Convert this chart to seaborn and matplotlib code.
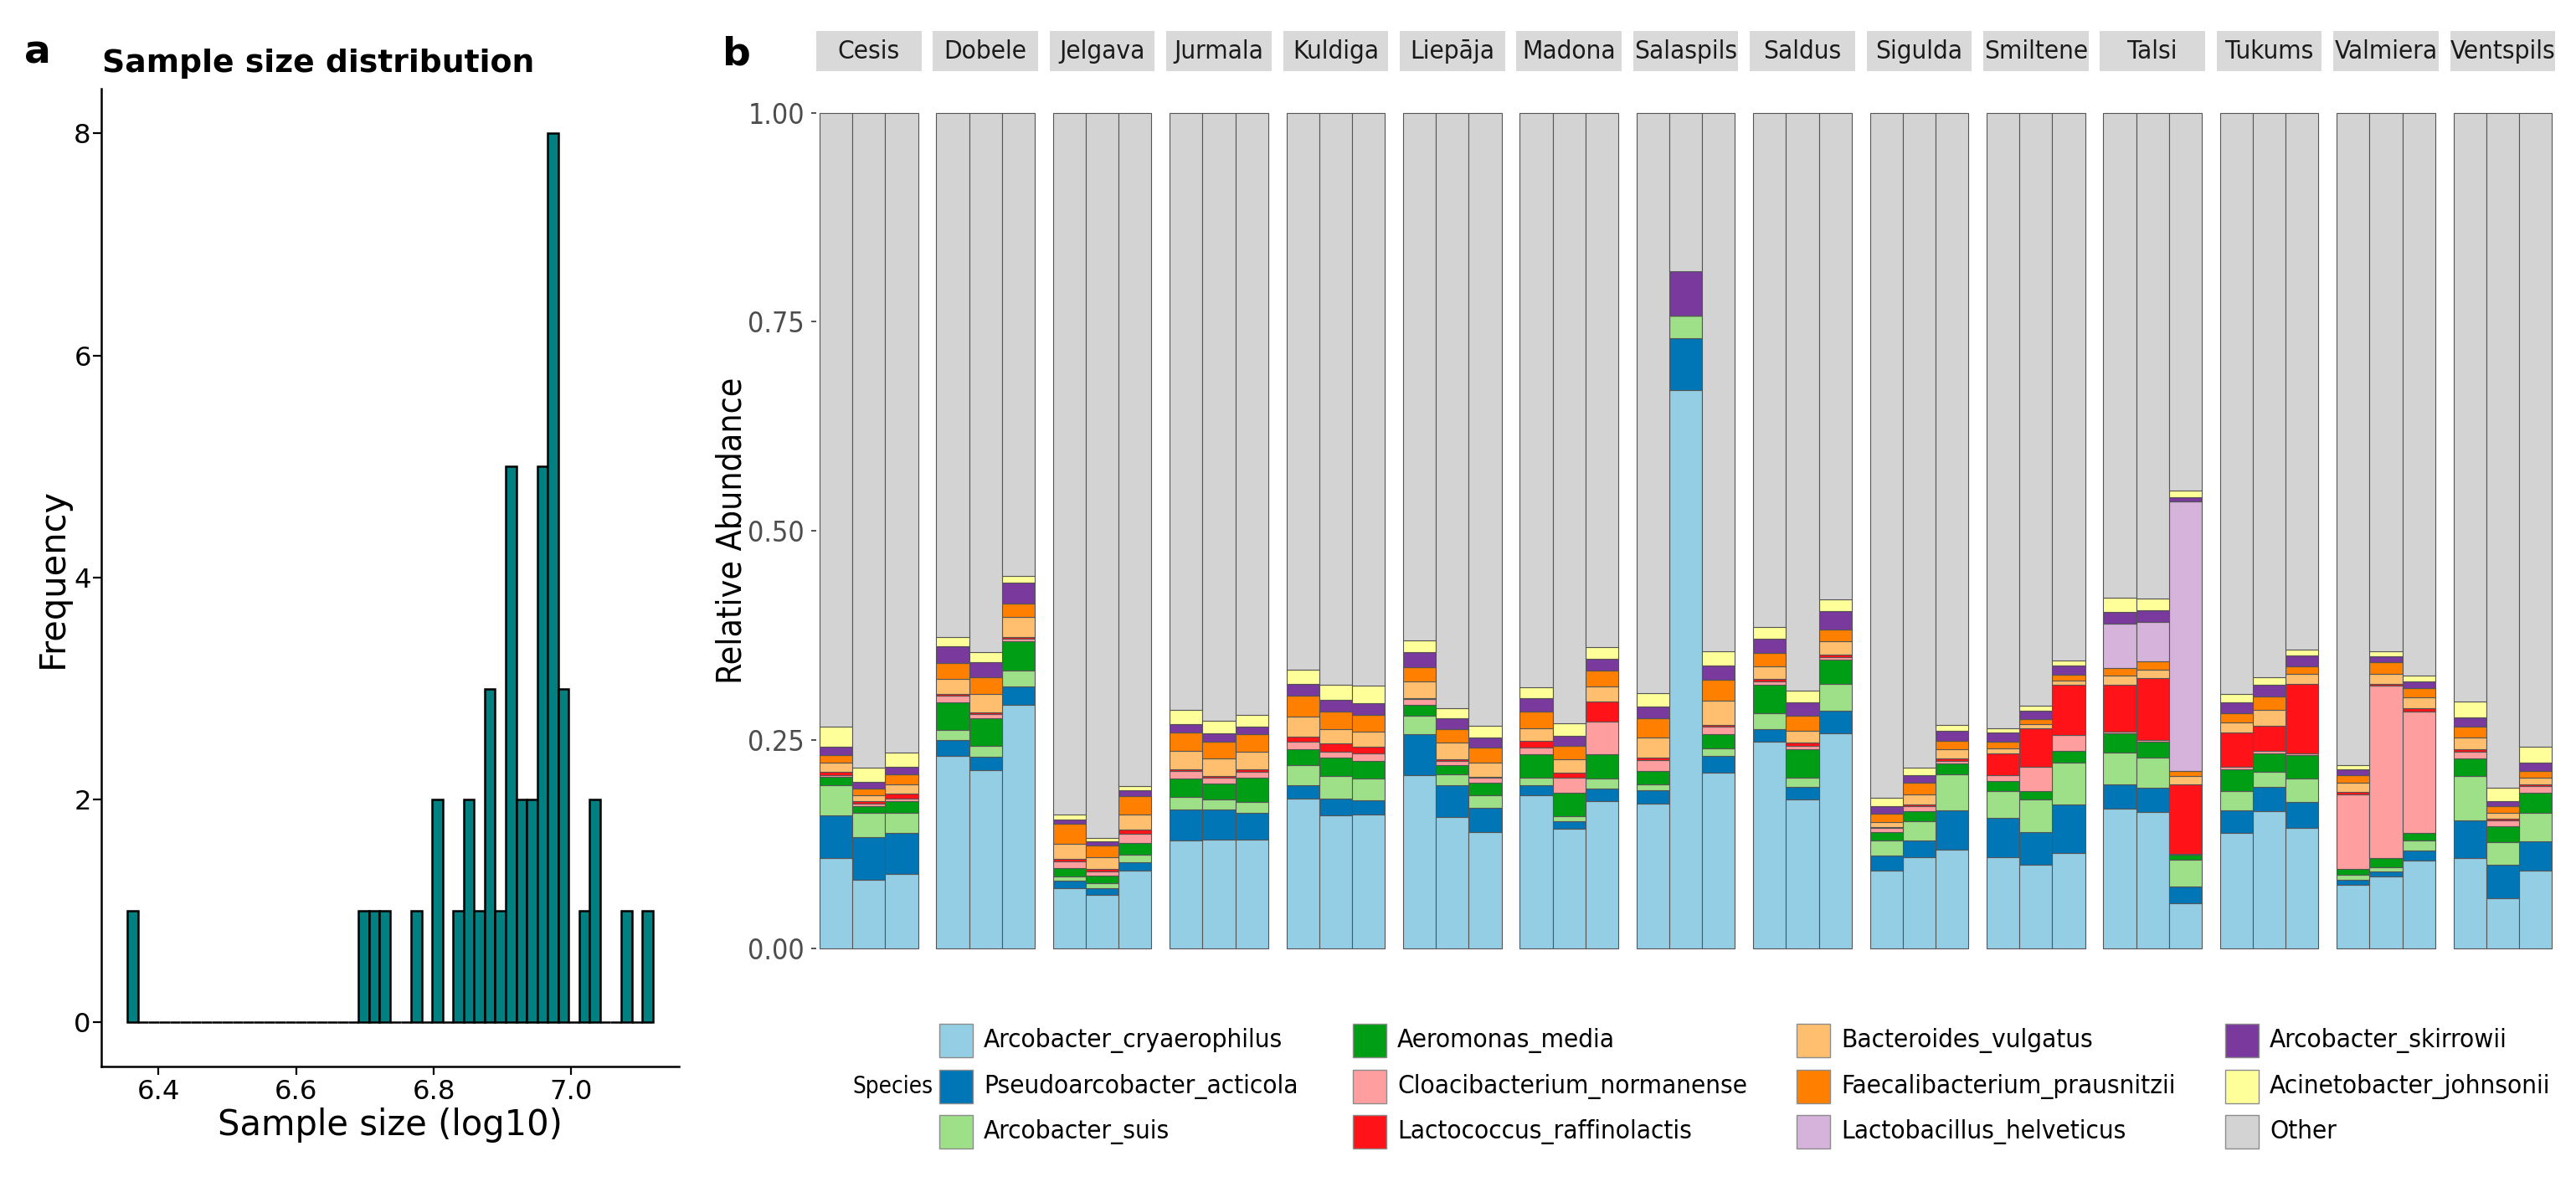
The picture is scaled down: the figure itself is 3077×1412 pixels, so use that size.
import numpy as np
import pandas as pd
import seaborn as sns
import matplotlib.pyplot as plt
from matplotlib import font_manager as fm
from matplotlib.patches import Rectangle

# ---- panel a: sample size histogram (bin value, count) ----
hist_values = [6.3624, 6.6985, 6.7137, 6.7290, 6.7748, 6.8054, 6.8359, 6.8512,
               6.8665, 6.8818, 6.8970, 6.9123, 6.9276, 6.9428, 6.9581, 6.9734,
               6.9887, 7.0192, 7.0345, 7.0803, 7.1108]
hist_counts = [1, 1, 1, 1, 1, 2, 1, 2, 1, 3, 1, 5, 2, 2, 5, 8, 3, 1, 2, 1, 1]

# ---- panel b: relative abundance, 3 samples per region ----
regions = ["Cesis", "Dobele", "Jelgava", "Jurmala", "Kuldiga", "Liepāja", "Madona",
           "Salaspils", "Saldus", "Sigulda", "Smiltene", "Talsi", "Tukums",
           "Valmiera", "Ventspils"]

species = ["Arcobacter_cryaerophilus", "Pseudoarcobacter_acticola", "Arcobacter_suis",
           "Aeromonas_media", "Cloacibacterium_normanense", "Lactococcus_raffinolactis",
           "Bacteroides_vulgatus", "Faecalibacterium_prausnitzii", "Lactobacillus_helveticus",
           "Arcobacter_skirrowii", "Acinetobacter_johnsonii", "Other"]

colors = ["#94CEE4", "#0076B6", "#9EE088", "#009E14", "#FF9E9E", "#FF1218",
          "#FFBF6E", "#FF8000", "#D5B3DA", "#7A399C", "#FFFF99", "#D3D3D3"]

cryaerophilus = [.108, .082, .089, .231, .213, .292, .072, .064, .093, .129, .130, .130,
                 .179, .159, .160, .207, .157, .139, .183, .143, .176, .173, .668, .210,
                 .248, .178, .258, .093, .109, .118, .109, .100, .114, .167, .163, .054,
                 .138, .164, .144, .076, .086, .105, .108, .060, .093]
acticola = [.051, .051, .049, .019, .017, .022, .009, .008, .010, .037, .036, .032,
            .016, .020, .017, .050, .038, .029, .012, .009, .015, .016, .062, .021,
            .015, .015, .027, .018, .020, .047, .047, .039, .058, .029, .029, .020,
            .027, .029, .031, .006, .006, .012, .045, .040, .035]
suis = [.036, .029, .024, .012, .013, .019, .005, .006, .009, .015, .012, .013,
        .024, .027, .026, .022, .013, .015, .009, .006, .012, .007, .027, .009,
        .019, .011, .032, .018, .023, .043, .032, .039, .050, .039, .037, .032,
        .023, .018, .028, .006, .005, .012, .053, .027, .034]
media = [.010, .008, .014, .033, .033, .035, .010, .009, .014, .022, .019, .029,
         .020, .023, .022, .013, .011, .015, .029, .028, .030, .016, .000, .017,
         .034, .035, .029, .010, .012, .013, .012, .010, .015, .023, .019, .006,
         .026, .023, .029, .007, .011, .009, .022, .019, .024]
normanense = [.002, .003, .003, .008, .005, .003, .008, .005, .011, .009, .007, .007,
              .009, .007, .009, .007, .006, .006, .008, .018, .039, .014, .000, .009,
              .004, .004, .003, .005, .006, .003, .007, .029, .019, .002, .002, .001,
              .003, .003, .002, .089, .207, .146, .008, .007, .008]
raffinolactis = [.004, .003, .006, .002, .002, .002, .003, .003, .005, .002, .002, .003,
                 .006, .010, .008, .001, .002, .001, .008, .006, .024, .003, .000, .002,
                 .003, .004, .003, .001, .002, .004, .027, .047, .060, .056, .074, .083,
                 .042, .030, .083, .003, .002, .004, .003, .002, .002]
vulgatus = [.011, .007, .011, .018, .022, .024, .018, .014, .018, .023, .022, .022,
            .024, .017, .018, .020, .020, .017, .015, .017, .018, .024, .000, .029,
            .015, .014, .016, .006, .012, .011, .006, .005, .005, .011, .010, .010,
            .012, .019, .012, .011, .012, .013, .014, .007, .008]
prausnitzii = [.010, .008, .012, .019, .020, .016, .024, .014, .022, .022, .020, .021,
               .025, .021, .020, .017, .016, .019, .020, .016, .019, .023, .000, .025,
               .016, .018, .014, .010, .014, .010, .008, .006, .007, .009, .010, .006,
               .011, .016, .009, .009, .014, .011, .013, .008, .008]
helveticus = [0, 0, 0, 0, 0, 0, 0, 0, 0, 0, 0, 0,
              0, 0, 0, 0, 0, 0, 0, 0, 0, 0, 0, 0,
              0, 0, 0, 0, 0, 0, 0, 0, 0, .053, .047, .323,
              0, 0, 0, 0, 0, 0, 0, 0, 0]
skirrowii = [.010, .008, .009, .020, .018, .025, .005, .005, .007, .010, .010, .009,
             .014, .014, .014, .018, .013, .012, .016, .012, .014, .014, .054, .017,
             .017, .016, .022, .009, .009, .012, .011, .010, .011, .014, .014, .005,
             .013, .014, .013, .007, .007, .008, .011, .006, .010]
johnsonii = [.024, .017, .018, .011, .012, .008, .006, .004, .005, .017, .015, .014,
             .017, .018, .021, .014, .012, .014, .013, .015, .014, .016, .000, .017,
             .014, .014, .014, .010, .009, .007, .005, .006, .006, .017, .014, .008,
             .010, .009, .007, .005, .006, .007, .019, .016, .020]
other = [.734, .784, .765, .627, .645, .554, .840, .868, .806, .714, .727, .720,
         .666, .684, .685, .631, .712, .733, .687, .730, .639, .694, .189, .644,
         .615, .691, .582, .820, .784, .732, .736, .709, .655, .580, .581, .452,
         .695, .675, .642, .781, .644, .673, .704, .808, .758]

series = [cryaerophilus, acticola, suis, media, normanense, raffinolactis, vulgatus,
          prausnitzii, helveticus, skirrowii, johnsonii, other]

rows = []
for sp, vals in zip(species, series):
    for k, v in enumerate(vals):
        rows.append({"region": regions[k // 3], "sample": k % 3, "species": sp, "abundance": v})
df = pd.DataFrame(rows)

sns.set_theme(style="ticks")
# panel b text is a condensed DejaVu; register it when it is installed
for f in fm.findSystemFonts():
    if "DejaVuSansCondensed" in f:
        fm.fontManager.addfont(f)
plt.rcParams["font.family"] = ["DejaVu Sans"]
plt.rcParams["font.stretch"] = "condensed"
plt.rcParams["text.color"] = "black"

W, H = 3077, 1412
fig = plt.figure(figsize=(W / 200, H / 200), dpi=200)


def box(x0, y0, x1, y1):
    return [x0 / W, 1 - y1 / H, (x1 - x0) / W, (y1 - y0) / H]


# ---- panel a (normal width text) ----
ax_a = fig.add_axes(box(121, 106, 811, 1274))
sns.histplot(x=hist_values, weights=hist_counts, bins=50, binrange=(6.3548, 7.1185),
             color="#008080", edgecolor="black", linewidth=0.9, alpha=1, ax=ax_a)
ax_a.set_xlim(6.3166, 7.1567)
ax_a.set_ylim(-0.4, 8.4)
ax_a.set_xticks([6.4, 6.6, 6.8, 7.0])
ax_a.set_xticklabels(["6.4", "6.6", "6.8", "7.0"])
ax_a.set_yticks([0, 2, 4, 6, 8])
ax_a.set_xlabel("")
ax_a.set_ylabel("")
sns.despine(ax=ax_a)
for s in ["left", "bottom"]:
    ax_a.spines[s].set_linewidth(0.9)
    ax_a.spines[s].set_color("black")
ax_a.tick_params(axis="both", length=3.6, width=0.8, color="black", labelsize=11.6,
                 labelcolor="black")
ax_a.tick_params(axis="y", pad=0.8)
ax_a.tick_params(axis="x", pad=1.8)
for lab in ax_a.get_xticklabels() + ax_a.get_yticklabels():
    lab.set_fontstretch("normal")

fig.text(29 / W, 1 - 76 / H, "a", fontsize=17, fontweight="bold", va="baseline",
         fontstretch="normal")
fig.text(122 / W, 1 - 86 / H, "Sample size distribution", fontsize=13.6,
         fontweight="bold", va="baseline", fontstretch="normal")
fig.text(63 / W, 1 - 690 / H, "Frequency", fontsize=15, rotation=90,
         ha="center", va="center", fontstretch="normal")
fig.text(466 / W, 1 - 1356 / H, "Sample size (log10)", fontsize=15,
         ha="center", va="baseline", fontstretch="normal")

# ---- panel b ----
strip_h = 48 / 1098
for i, reg in enumerate(regions):
    x0 = 975 + i * 139.4
    ax = fig.add_axes(box(x0, 85, x0 + 125.5, 1183))
    sub = df[df["region"] == reg]
    sns.histplot(data=sub, x="sample", weights="abundance", hue="species",
                 hue_order=species[::-1], palette=colors[::-1], multiple="stack",
                 discrete=True, shrink=1, edgecolor="#555555", linewidth=0.4,
                 alpha=1, legend=False, ax=ax)
    ax.set_xlim(-0.6, 2.6)
    ax.set_ylim(-0.05, 1.05)
    ax.set_xticks([])
    ax.set_xlabel("")
    ax.set_ylabel("")
    for s in ax.spines.values():
        s.set_visible(False)
    if i == 0:
        ax.set_yticks([0, 0.25, 0.5, 0.75, 1.0])
        ax.set_yticklabels(["0.00", "0.25", "0.50", "0.75", "1.00"])
        ax.tick_params(axis="y", length=2.2, width=0.6, color="#333333",
                       labelsize=12.2, labelcolor="#4D4D4D", pad=2.9)
    else:
        ax.set_yticks([])
    ax.add_patch(Rectangle((0, 1), 1, strip_h, transform=ax.transAxes,
                           facecolor="#D9D9D9", edgecolor="none", clip_on=False))
    ax.text(0.5, 1 + strip_h / 2, reg, transform=ax.transAxes, ha="center",
            va="center", fontsize=11.3, color="#1A1A1A")

fig.text(863 / W, 1 - 77 / H, "b", fontsize=17, fontweight="bold", va="baseline",
         fontstretch="normal")
fig.text(874 / W, 1 - 634 / H, "Relative Abundance", fontsize=14.7, rotation=90,
         ha="center", va="center")

# ---- legend ----
col_x = [1122, 1616, 2146, 2658]
row_y = [1243, 1298, 1352]
for j, (sp, c) in enumerate(zip(species, colors)):
    cx = col_x[j // 3]
    cy = row_y[j % 3]
    fig.patches.append(Rectangle((cx / W, 1 - (cy + 20) / H), 40 / W, 40 / H,
                                 transform=fig.transFigure, facecolor=c,
                                 edgecolor="#8C8C8C", linewidth=0.5))
    fig.text((cx + 53) / W, 1 - cy / H, sp, fontsize=11.3, va="center", ha="left")
fig.text(1114 / W, 1 - 1298 / H, "Species", fontsize=10, va="center", ha="right")

fig.savefig("out.png", dpi=200, facecolor="white")
